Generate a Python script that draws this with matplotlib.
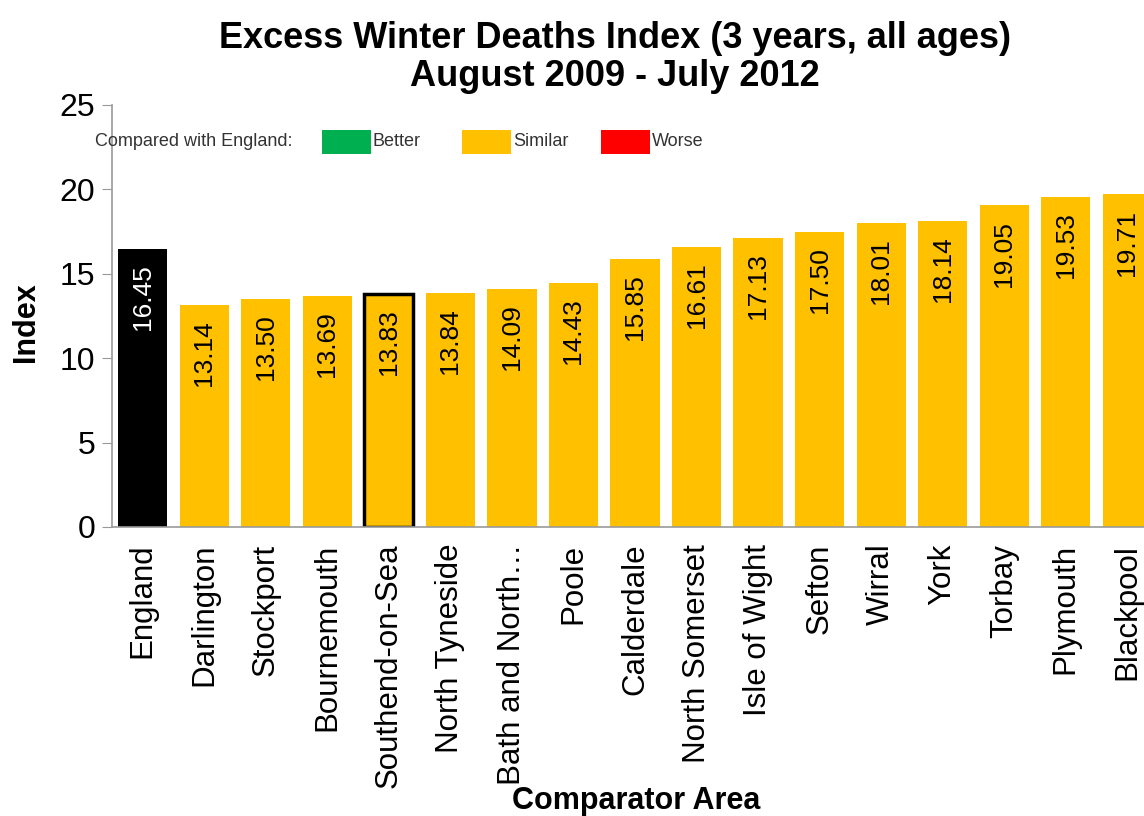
import matplotlib
matplotlib.use('Agg')
from matplotlib import pyplot as plt
from matplotlib.patches import Rectangle

plt.rcParams['font.family'] = ['Liberation Sans', 'DejaVu Sans']

areas = ['England', 'Darlington', 'Stockport', 'Bournemouth', 'Southend-on-Sea',
         'North Tyneside', 'Bath and North\u2026', 'Poole', 'Calderdale',
         'North Somerset', 'Isle of Wight', 'Sefton', 'Wirral', 'York',
         'Torbay', 'Plymouth', 'Blackpool']
index_vals = [16.45, 13.14, 13.50, 13.69, 13.83, 13.84, 14.09, 14.43, 15.85,
              16.61, 17.13, 17.50, 18.01, 18.14, 19.05, 19.53, 19.71]
highlight = 'Southend-on-Sea'

legend_labels = ['Better', 'Similar', 'Worse']
legend_colors = ['#00B050', '#FFC000', '#FF0000']

W, H = 1144, 816
fig = plt.figure(figsize=(W / 100, H / 100), dpi=100)

# axes goes past the right edge on purpose (last bar is clipped in the original)
ax_left, ax_right, ax_top, ax_bot = 112, 1158, 105, 527
ax = fig.add_axes([ax_left / W, 1 - ax_bot / H, (ax_right - ax_left) / W, (ax_bot - ax_top) / H])

colors = ['black'] + ['#FFC000'] * (len(areas) - 1)
x = list(range(len(areas)))
bars = ax.bar(x, index_vals, width=0.8, color=colors, zorder=2)

for i, b in enumerate(bars):
    if areas[i] == highlight:
        b.set_edgecolor('black')
        b.set_linewidth(2.5)
    txt_col = 'white' if i == 0 else 'black'
    ax.annotate(f'{index_vals[i]:.2f}', (b.get_x() + b.get_width() / 2, b.get_height()),
                xytext=(0, -11), textcoords='offset points', rotation=90,
                ha='center', va='top', fontsize=19, color=txt_col)

ax.set_xlim(-0.5, len(areas) - 0.5)
ax.set_ylim(0, 25)
ax.set_yticks([0, 5, 10, 15, 20, 25])
ax.set_xticks(x)
ax.set_xticklabels(areas, rotation=90, fontsize=22.5)
ax.tick_params(axis='y', labelsize=23, length=7, color='#999999', direction='out', pad=5)
ax.tick_params(axis='x', length=0, pad=12)

for s in ['top', 'right']:
    ax.spines[s].set_visible(False)
for s in ['left', 'bottom']:
    ax.spines[s].set_color('#999999')
    ax.spines[s].set_linewidth(1.2)

fig.text(26 / W, 1 - 322 / H, 'Index', fontsize=22, fontweight='bold', rotation=90,
         ha='center', va='center')
fig.text(636 / W, 1 - 801 / H, 'Comparator Area', fontsize=22, fontweight='bold',
         ha='center', va='center')

fig.text(615 / W, 1 - 39 / H, 'Excess Winter Deaths Index (3 years, all ages)',
         fontsize=26, fontweight='bold', ha='center', va='center')
fig.text(615 / W, 1 - 77 / H, 'August 2009 - July 2012',
         fontsize=26, fontweight='bold', ha='center', va='center')

# legend row
ly = 142
fig.text(95 / W, 1 - ly / H, 'Compared with England:', fontsize=13, color='#333333',
         ha='left', va='center')
box_x = [322, 462, 601]
for bx, lab, c in zip(box_x, legend_labels, legend_colors):
    fig.patches.append(Rectangle((bx / W, 1 - (ly + 12) / H), 49 / W, 24 / H,
                                 transform=fig.transFigure, facecolor=c,
                                 edgecolor='none', zorder=3))
    fig.text((bx + 51) / W, 1 - ly / H, lab, fontsize=13, color='#333333',
             ha='left', va='center')

fig.savefig('out.png', dpi=100)
